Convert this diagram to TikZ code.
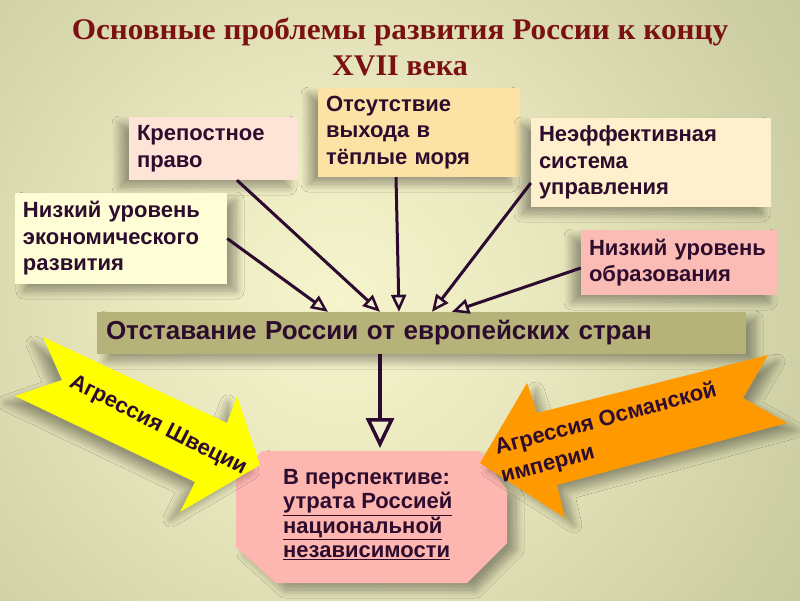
\documentclass[tikz,border=0pt]{standalone}
\usepackage{fontspec}
\setmainfont{Liberation Sans}
\newfontfamily\titlefont{Liberation Serif}
\usetikzlibrary{arrows.meta,shadows.blur}
\definecolor{bga}{RGB}{246,244,204}
\definecolor{bgb}{RGB}{234,232,190}
\definecolor{bgc}{RGB}{206,207,164}
\definecolor{bgd}{RGB}{180,183,142}
\definecolor{bge}{RGB}{160,164,124}
\definecolor{titlec}{RGB}{123,17,19}
\definecolor{txt}{RGB}{45,12,45}
\definecolor{arrc}{RGB}{45,10,48}
\definecolor{fpeach}{RGB}{253,228,215}
\definecolor{forange}{RGB}{253,226,166}
\definecolor{fcream}{RGB}{254,240,204}
\definecolor{fyellow}{RGB}{254,254,214}
\definecolor{fpink}{RGB}{252,188,182}
\definecolor{folive}{RGB}{181,179,121}
\definecolor{fbot}{RGB}{253,182,176}
\definecolor{yarrow}{RGB}{255,255,0}
\definecolor{oarrow}{RGB}{255,153,0}
\definecolor{tipfill}{RGB}{240,238,206}
\pgfdeclareradialshading{bgshade}{\pgfpoint{0bp}{0bp}}{color(0bp)=(bga); color(8bp)=(bgb); color(20bp)=(bgc); color(35bp)=(bgd); color(50bp)=(bge)}
\tikzset{
  box/.style={font=\bfseries\fontsize{22}{26.5}\selectfont, text=txt, align=left, inner xsep=8pt, inner ysep=0pt},
  shdl/.style={blur shadow={shadow xshift=-9pt, shadow yshift=-7pt, shadow opacity=35, shadow blur radius=8pt, shadow blur steps=12}},
  shdr/.style={blur shadow={shadow xshift=9pt, shadow yshift=-7pt, shadow opacity=35, shadow blur radius=8pt, shadow blur steps=12}},
  arr/.style={draw=arrc, line width=3pt, -{Triangle[length=17pt, width=15pt, fill=tipfill, line width=2.5pt]}},
  bigarr/.style={draw=arrc, line width=4.5pt, -{Triangle[length=30pt, width=28pt, fill=tipfill, line width=3.5pt]}},
  arrlabel/.style={font=\bfseries\fontsize{22}{26}\selectfont, text=txt, inner sep=0pt}
}
\begin{document}
\begin{tikzpicture}[x=1pt, y=-1pt]
\useasboundingbox (0,0) rectangle (800,600);
\begin{scope}
\clip (0,0) rectangle (800,600);
\shade[shading=bgshade] (340,300) circle (600);
\end{scope}

% title
\node[font=\titlefont\bfseries\fontsize{30}{36}\selectfont, text=titlec, anchor=base, inner sep=0pt] (t1) at (400,39) {\scalebox{1.04}[1]{Основные проблемы развития России к концу}};
\node[font=\titlefont\bfseries\fontsize{30}{36}\selectfont, text=titlec, anchor=base, inner sep=0pt] (t2) at (400,75) {XVII века};

% cause boxes
\node[box, shdl, fill=fpeach, text width=153pt, minimum height=63pt] (b1) at (213.5,148.5) {Крепостное\\право};
\node[box, shdl, fill=forange, text width=186pt, minimum height=89pt] (b2) at (419,132.5) {Отсутствие\\выхода в\\тёплые моря};
\node[box, shdl, fill=fcream, text width=224pt, minimum height=89pt] (b3) at (651,162.5) {Неэффективная\\система\\управления};
\node[box, shdr, fill=fyellow, text width=196pt, minimum height=91pt] (b4) at (121,238.5) {Низкий уровень\\экономического\\развития};
\node[box, shdl, fill=fpink, text width=181pt, minimum height=65pt] (b5) at (679.5,262.5) {Низкий уровень\\образования};

% lag box
\node[shdr, fill=folive, font=\bfseries\fontsize{26}{30}\selectfont, text=txt, minimum width=649pt, minimum height=42pt, inner xsep=9pt, align=left, text width=631pt] (lag) at (421.5,333) {Отставание России от европейских стран};

% bottom box
\path[shdr, fill=fbot] (262,451) -- (480,451) -- (507,490) -- (507,543) -- (467,583) -- (276,583) -- (236,547) -- (236,478) -- cycle;
\node[font=\bfseries\fontsize{22}{24.4}\selectfont, text=txt, align=left, anchor=north west, inner sep=0pt] (bot) at (283,469) {В перспективе:\\\underline{утрата Россией}\\\underline{национальной}\\\underline{независимости}};
\coordinate (bottop) at (380,448);

% arrows
\draw[arr] (b4.east) -- ([xshift=-93.5pt]lag.north);
\draw[arr] ([xshift=23.5pt]b1.south) -- ([xshift=-41.5pt]lag.north);
\draw[arr] ([xshift=-23pt]b2.south) -- ([xshift=-22.5pt]lag.north);
\draw[arr] ([yshift=-20.5pt]b3.west) -- ([xshift=10.5pt]lag.north);
\draw[arr] ([yshift=-5.5pt]b5.west) -- ([xshift=30.5pt]lag.north);
\draw[bigarr] ([xshift=-41.5pt]lag.south) -- (bottop);

% Sweden arrow
\path[shdl, fill=yarrow] (43,337) -- (227,423) -- (237,396) -- (260,465) -- (180,512) -- (195,482) -- (15,396) -- (62,380) -- cycle;
\node[arrlabel, rotate=-27] (sw) at (158,426) {Агрессия Швеции};

% Ottoman arrow
\path[shdr, fill=oarrow] (768,355) -- (743,398) -- (787,423) -- (557,485) -- (565,518) -- (480,463) -- (527,383) -- (537,413) -- cycle;
\node[arrlabel, rotate=15, anchor=base west] (ot1) at (497,455) {Агрессия Османской};
\node[arrlabel, rotate=15, anchor=base west] (ot2) at (503,483) {империи};
\end{tikzpicture}
\end{document}
